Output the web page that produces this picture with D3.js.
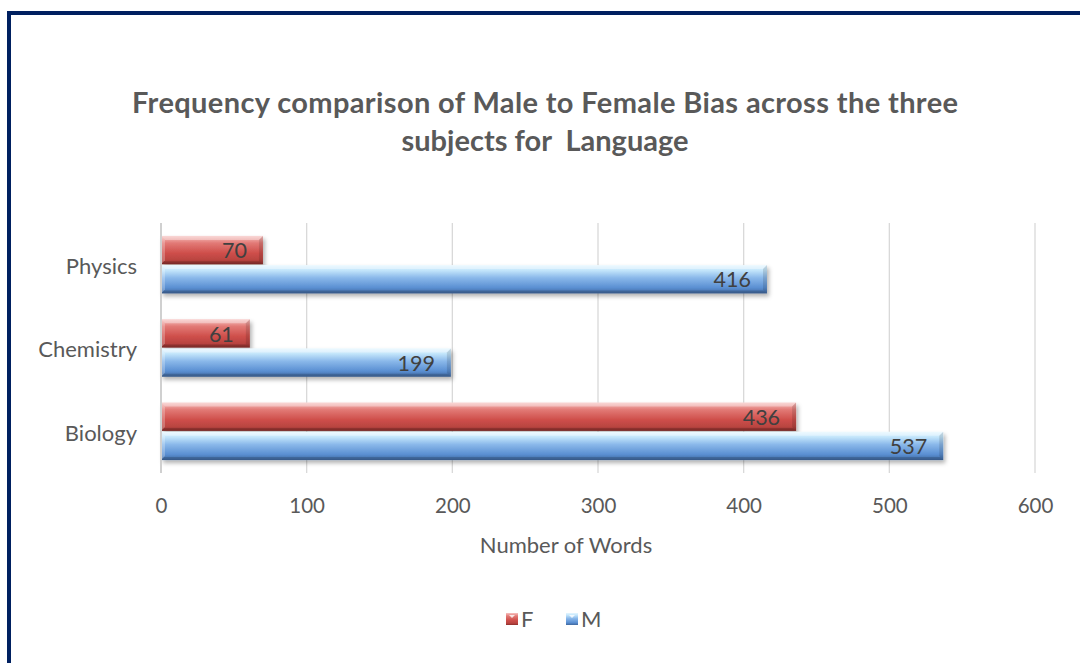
<!DOCTYPE html>
<html><head><meta charset="utf-8">
<script src="https://cdn.jsdelivr.net/npm/d3@7/dist/d3.min.js"></script>
<style>body{margin:0;background:#fff}svg{display:block}text{white-space:pre}</style>
</head><body>
<svg id="c" width="1080" height="663"></svg>
<script>
const categories = ["Physics", "Chemistry", "Biology"];
const seriesNames = ["F", "M"];
const femaleValues = [70, 61, 436];
const maleValues = [416, 199, 537];
const xTicks = [0, 100, 200, 300, 400, 500, 600];
const titleLines = ["Frequency comparison of Male to Female Bias across the three", "subjects for  Language"];
const axisTitle = "Number of Words";

const font = "Lato, 'Open Sans', sans-serif";
const svg = d3.select("#c");
const defs = svg.append("defs");

function grad(id, stops) {
  const g = defs.append("linearGradient").attr("id", id).attr("x1", 0).attr("y1", 0).attr("x2", 0).attr("y2", 1);
  stops.forEach(s => g.append("stop").attr("offset", s[0]).attr("stop-color", s[1]));
}
grad("gF", [[0, "#f7c2c0"], [0.25, "#e27a76"], [0.6, "#cf4f4b"], [0.85, "#b94440"], [1, "#8e2f2c"]]);
grad("gM", [[0, "#e4f6ff"], [0.18, "#c4e6fb"], [0.45, "#8ab8ea"], [0.8, "#5a8fd2"], [1, "#40689f"]]);
const sh = defs.append("filter").attr("id", "sh").attr("x", "-5%").attr("y", "-20%").attr("width", "115%").attr("height", "160%");
sh.append("feDropShadow").attr("dx", 2).attr("dy", 3).attr("stdDeviation", 2).attr("flood-color", "#000").attr("flood-opacity", 0.3);

// border
svg.append("path").attr("d", "M9,663 L9,13 L1080,13").attr("fill", "none").attr("stroke", "#002060").attr("stroke-width", 4);

// title
const tt = svg.append("text").attr("text-anchor", "middle")
  .attr("font-family", font).attr("font-weight", "bold").attr("font-size", 29).attr("fill", "#595959");
tt.append("tspan").attr("x", 545).attr("y", 113).attr("textLength", 826).attr("lengthAdjust", "spacing").text(titleLines[0]);
tt.append("tspan").attr("x", 545).attr("y", 151).text(titleLines[1]);

const x = d3.scaleLinear().domain([0, 600]).range([161, 1035]);
const y = d3.scaleBand().domain(categories).range([223, 473]).paddingInner(0.31).paddingOuter(0.155);
const ySub = d3.scaleBand().domain(seriesNames).range([0, y.bandwidth()]).paddingInner(0.03);

// gridlines
svg.append("g").selectAll("line").data(xTicks.slice(1)).join("line")
  .attr("x1", d => x(d)).attr("x2", d => x(d)).attr("y1", 223).attr("y2", 473)
  .attr("stroke", "#d9d9d9").attr("stroke-width", 1.3);

// x axis labels
const xAxis = d3.axisBottom(x).tickValues(xTicks).tickSize(0).tickPadding(0);
const gx = svg.append("g").attr("transform", "translate(0,513)").call(xAxis);
gx.select(".domain").remove();
gx.selectAll("text").attr("font-family", font).attr("font-size", 20.5).attr("fill", "#595959").attr("dy", 0);

// y axis
const yAxis = d3.axisLeft(y).tickSize(0).tickPadding(24);
const gy = svg.append("g").attr("transform", "translate(161,0)").call(yAxis);
gy.select(".domain").remove();
gy.selectAll("text").attr("font-family", font).attr("font-size", 22).attr("fill", "#595959").attr("dy", "0.42em");

const rows = categories.map((c, i) => ({cat: c, F: femaleValues[i], M: maleValues[i]}));
const bars = [];
rows.forEach(r => seriesNames.forEach(s => bars.push({cat: r.cat, s, v: r[s]})));

const bg = svg.append("g");
const bar = bg.selectAll("g.bar").data(bars).join("g").attr("class", "bar")
  .attr("transform", d => `translate(${x(0)},${y(d.cat) + ySub(d.s)})`);
bar.append("rect").attr("width", d => x(d.v) - x(0)).attr("height", ySub.bandwidth())
  .attr("fill", d => `url(#g${d.s})`).attr("filter", "url(#sh)");
// bevel highlights
bar.append("path").attr("d", d => {
  const w = x(d.v) - x(0), h = ySub.bandwidth(), b = 4;
  return `M0,0 L${w},0 L${w - b},${b} L${b},${b} Z`;
}).attr("fill", "#fff").attr("opacity", 0.35);
bar.append("path").attr("d", d => {
  const w = x(d.v) - x(0), h = ySub.bandwidth(), b = 4;
  return `M0,0 L${b},${b} L${b},${h - b} L0,${h} Z`;
}).attr("fill", "#fff").attr("opacity", 0.25);
bar.append("path").attr("d", d => {
  const w = x(d.v) - x(0), h = ySub.bandwidth(), b = 4;
  return `M${w},0 L${w},${h} L${w - b},${h - b} L${w - b},${b} Z`;
}).attr("fill", "#000").attr("opacity", 0.12);
bar.append("path").attr("d", d => {
  const w = x(d.v) - x(0), h = ySub.bandwidth(), b = 3;
  return `M0,${h} L${w},${h} L${w - b},${h - b} L${b},${h - b} Z`;
}).attr("fill", "#000").attr("opacity", 0.15);

// labels
bar.append("text").attr("x", d => x(d.v) - x(0) - 16).attr("y", ySub.bandwidth() / 2).attr("dy", "0.38em")
  .attr("text-anchor", "end").attr("font-family", font).attr("font-size", 21.5).attr("fill", "#404040")
  .text(d => d.v);

// y axis line
svg.append("line").attr("x1", 161).attr("x2", 161).attr("y1", 223).attr("y2", 473)
  .attr("stroke", "#d0d0d0").attr("stroke-width", 2);

// axis title
svg.append("text").attr("x", 566).attr("y", 553).attr("text-anchor", "middle")
  .attr("font-family", font).attr("font-size", 22).attr("fill", "#595959").text(axisTitle);

// legend
const legX = [506, 566];
const lg = svg.append("g").selectAll("g").data(seriesNames).join("g")
  .attr("transform", (d, i) => `translate(${legX[i]},613)`);
lg.append("rect").attr("width", 12).attr("height", 12).attr("fill", d => `url(#g${d})`);
lg.append("path").attr("d", "M3,2 L9,2 L6,5 Z").attr("fill", "#fff").attr("opacity", 0.8);
lg.append("text").attr("x", 15).attr("y", 6).attr("dy", "0.38em").attr("font-family", font)
  .attr("font-size", 22).attr("fill", "#595959").text(d => d);
</script>
</body></html>
